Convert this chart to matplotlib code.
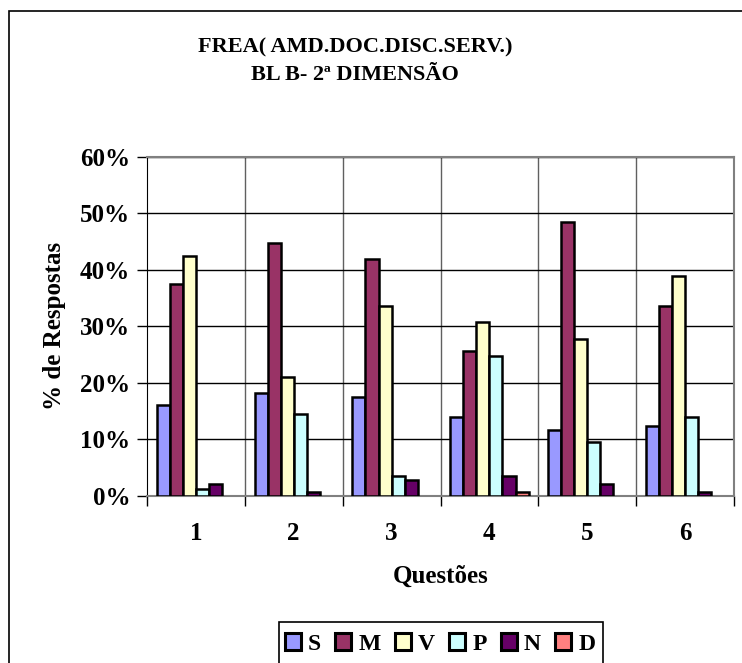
import matplotlib
matplotlib.use("Agg")
import matplotlib.pyplot as plt
import numpy as np
from matplotlib.patches import Rectangle
from matplotlib.ticker import FixedLocator, NullFormatter

plt.rcParams['font.family'] = ['Liberation Serif', 'DejaVu Serif']
plt.rcParams['font.weight'] = 'bold'

# Survey answers per question (percentage of responses)
questions = ['1', '2', '3', '4', '5', '6']
series_names = ['S', 'M', 'V', 'P', 'N', 'D']
S = [16.0, 18.2, 17.5, 13.9, 11.6, 12.4]
M = [37.4, 44.8, 41.8, 25.6, 48.4, 33.6]
V = [42.4, 21.1, 33.6, 30.7, 27.8, 38.9]
P = [1.2, 14.5, 3.6, 24.8, 9.5, 13.9]
N = [2.2, 0.7, 2.8, 3.6, 2.2, 0.7]
D = [0.0, 0.0, 0.0, 0.7, 0.0, 0.0]
y_ticks = [0, 10, 20, 30, 40, 50, 60]

series = [S, M, V, P, N, D]
colors = ['#9999FF', '#993366', '#FFFFCC', '#CCFFFF', '#660066', '#FF8080']

W, H = 742, 663
fig = plt.figure(figsize=(W / 100, H / 100), dpi=100)

# outer chart border
fig.patches.append(Rectangle((9 / W, -0.1), 1.2, 1 - 11 / H + 0.1,
                             transform=fig.transFigure, fill=False,
                             edgecolor='black', linewidth=1.2, zorder=0))

ax = fig.add_axes([147 / W, 1 - 496 / H, (734 - 147) / W, (496 - 156.5) / H])

x = np.arange(len(questions))
group = 0.8
bw = group / len(series)
for i, (vals, col, name) in enumerate(zip(series, colors, series_names)):
    offs = -group / 2 + bw * (i + 0.5)
    edges = ['black' if v > 0 else 'none' for v in vals]
    ax.bar(x + offs, vals, width=bw, color=col, edgecolor=edges,
           linewidth=1.8, label=name, zorder=3)

ax.set_xlim(-0.5, len(questions) - 0.5)
ax.set_ylim(0, 60)

# horizontal gridlines
ax.yaxis.set_major_locator(FixedLocator(y_ticks))
ax.set_yticklabels([f'{t}%' for t in y_ticks], fontsize=18, fontweight='bold')
ax.yaxis.grid(True, color='black', linewidth=1.0, zorder=1)

# category labels centred, tick marks and vertical gridlines at boundaries
ax.set_xticks(x)
ax.set_xticklabels(questions, fontsize=18, fontweight='bold')
ax.tick_params(axis='x', which='major', length=0, pad=19)
ax.set_xticks(np.arange(-0.5, len(questions)), minor=True)
ax.xaxis.set_minor_formatter(NullFormatter())
ax.tick_params(axis='x', which='minor', length=7, width=1.0, direction='out')
for b in np.arange(0.5, len(questions) - 0.5):
    ax.axvline(b, color='#606060', linewidth=1.0, zorder=1)
ax.tick_params(axis='y', length=7, width=1.0, direction='out', pad=5)

for side in ['top', 'right']:
    ax.spines[side].set_color('#808080')
    ax.spines[side].set_linewidth(1.5)
ax.spines['left'].set_color('black')
ax.spines['bottom'].set_color('#808080')
ax.spines['bottom'].set_linewidth(1.5)

ax.set_xlabel('Questões', fontsize=18, fontweight='bold', labelpad=14)
ax.set_ylabel('% de Respostas', fontsize=18, fontweight='bold', labelpad=10)

fig.text(355 / W, 1 - 47 / H, 'FREA( AMD.DOC.DISC.SERV.)', ha='center',
         va='center', fontsize=16, fontweight='bold')
fig.text(355 / W, 1 - 75 / H, 'BL B- 2ª DIMENSÃO', ha='center',
         va='center', fontsize=16, fontweight='bold')

# legend box, running past the bottom edge of the chart area
fig.patches.append(Rectangle((279 / W, -0.1), (603 - 279) / W,
                             1 - 622 / H + 0.1, transform=fig.transFigure,
                             facecolor='white', edgecolor='black',
                             linewidth=1.2, zorder=1))

leg = fig.legend(loc='center', bbox_to_anchor=(440 / W, 1 - 644 / H),
                 ncol=6, frameon=False,
                 prop={'size': 17, 'weight': 'bold'},
                 handlelength=0.68, handleheight=0.68, handletextpad=0.3,
                 columnspacing=0.6, borderpad=0.0, borderaxespad=0)
leg.set_zorder(2)
for h in leg.legend_handles:
    h.set_linewidth(2.2)
    h.set_edgecolor('black')

fig.savefig('out.png', dpi=100)
